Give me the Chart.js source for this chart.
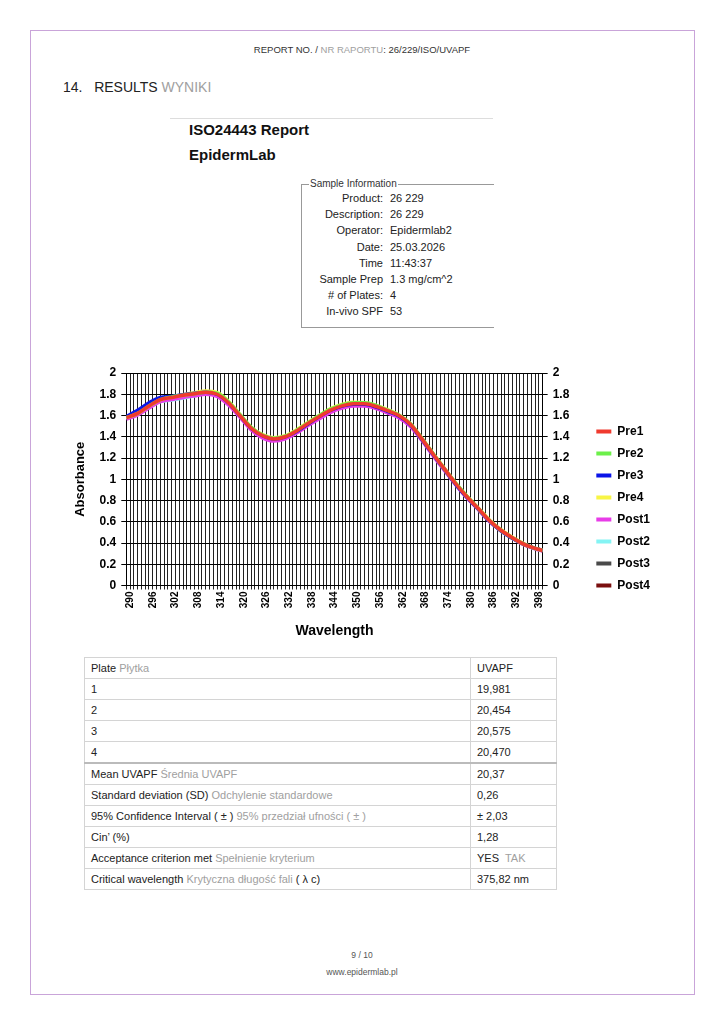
<!DOCTYPE html>
<html>
<head>
<meta charset="utf-8">
<script src="https://cdn.jsdelivr.net/npm/chart.js@4/dist/chart.umd.min.js"></script>
<style>
    body { margin: 0; background: #fff; font-family: "Liberation Sans", Arial, sans-serif; }
    .page { position: relative; width: 724px; height: 1024px; }
    .frame { position: absolute; left: 30px; top: 30px; width: 663px; height: 963px; border: 1px solid #c9a4d9; }
    .head { position: absolute; left: 0; width: 724px; top: 44px; text-align: center; font-size: 9.5px; color: #333; font-family: "Liberation Sans Narrow", "Liberation Sans", sans-serif; }
    .grey { color: #a0a0a0; }
    .sec { position: absolute; left: 63px; top: 79px; font-size: 14px; color: #222; font-family: "Liberation Sans Narrow", "Liberation Sans", sans-serif; }
    .rep { position: absolute; left: 170px; top: 118px; width: 323px; border-top: 1px solid #ddd; }
    .rtitle { position: absolute; left: 189px; font-weight: bold; font-size: 15px; color: #111; }
    .group { position: absolute; left: 301px; top: 184px; width: 192px; height: 142px; border: 1px solid #999; border-right: none; }
    .group .cap { position: absolute; left: 7px; top: -7px; background: #fff; font-size: 10px; color: #333; padding: 0 1px; }
    .row { position: absolute; left: 0; font-size: 11px; color: #222; }
    .row .k { position: absolute; right: -81px; width: 120px; text-align: right; }
    .row .v { position: absolute; left: 88px; white-space: nowrap; }
    #wrap { position: absolute; left: 69px; top: 358px; width: 595px; height: 286px; }
    table { position: absolute; left: 84px; top: 657px; width: 473px; border-collapse: collapse; font-size: 11px; color: #222; }
    td { border: 1px solid #d4d4d4; height: 20px; padding: 0 6px; }
    td.val { width: 73px; }
    tr.sep td { border-top: 2px solid #bbb; }
    .foot { position: absolute; left: 0; width: 724px; text-align: center; font-size: 8.5px; color: #555; }
</style>
</head>
<body>
<div class="page">
    <div class="frame"></div>
    <div class="head">REPORT NO. / <span class="grey">NR RAPORTU</span>: 26/229/ISO/UVAPF</div>
    <div class="sec">14.&nbsp;&nbsp; RESULTS <span class="grey">WYNIKI</span></div>

    <div class="rep"></div>
    <div class="rtitle" style="top:121px">ISO24443 Report</div>
    <div class="rtitle" style="top:146px">EpidermLab</div>
    <div class="group">
        <div class="cap">Sample Information</div>
        <div id="rows"></div>
    </div>

    <div id="wrap"><canvas id="grafica"></canvas></div>

    <table id="tabla"></table>

    <div class="foot" style="top:950px">9 / 10</div>
    <div class="foot" style="top:967px">www.epidermlab.pl</div>
</div>

<script>
const etiquetasMuestra = ['Product:', 'Description:', 'Operator:', 'Date:', 'Time', 'Sample Prep', '# of Plates:', 'In-vivo SPF'];
const valoresMuestra = ['26 229', '26 229', 'Epidermlab2', '25.03.2026', '11:43:37', '1.3 mg/cm^2', '4', '53'];

const wavelengths = [290, 293, 296, 299, 302, 305, 308, 311, 314, 317, 320, 323, 326, 329, 332, 335, 338, 341, 344, 347,
    350, 353, 356, 359, 362, 365, 368, 371, 374, 377, 380, 383, 386, 389, 392, 395, 398, 400];

const pre1 = [1.58, 1.62, 1.69, 1.75, 1.77, 1.79, 1.805, 1.82, 1.80, 1.72, 1.60, 1.48, 1.41, 1.38, 1.40, 1.455, 1.525, 1.59, 1.65, 1.69,
    1.71, 1.71, 1.685, 1.645, 1.60, 1.52, 1.385, 1.24, 1.10, 0.96, 0.835, 0.725, 0.61, 0.52, 0.45, 0.39, 0.35, 0.33];
const pre2 = [1.58, 1.62, 1.69, 1.75, 1.775, 1.79, 1.805, 1.82, 1.81, 1.73, 1.61, 1.49, 1.415, 1.385, 1.405, 1.46, 1.53, 1.60, 1.66, 1.70,
    1.72, 1.72, 1.695, 1.65, 1.605, 1.525, 1.39, 1.245, 1.10, 0.965, 0.84, 0.725, 0.61, 0.52, 0.45, 0.39, 0.35, 0.33];
const pre3 = [1.59, 1.65, 1.72, 1.77, 1.78, 1.795, 1.81, 1.82, 1.80, 1.72, 1.60, 1.48, 1.41, 1.38, 1.40, 1.45, 1.52, 1.59, 1.65, 1.69,
    1.705, 1.705, 1.68, 1.64, 1.595, 1.515, 1.38, 1.235, 1.095, 0.955, 0.83, 0.72, 0.605, 0.515, 0.445, 0.39, 0.35, 0.33];
const pre4 = [1.58, 1.62, 1.69, 1.75, 1.775, 1.795, 1.815, 1.83, 1.815, 1.735, 1.61, 1.49, 1.42, 1.39, 1.41, 1.465, 1.535, 1.60, 1.665, 1.705,
    1.725, 1.72, 1.695, 1.655, 1.605, 1.525, 1.39, 1.245, 1.105, 0.965, 0.84, 0.73, 0.615, 0.525, 0.455, 0.395, 0.35, 0.33];
const post1 = [1.565, 1.605, 1.67, 1.73, 1.75, 1.77, 1.785, 1.80, 1.78, 1.70, 1.585, 1.465, 1.39, 1.36, 1.38, 1.435, 1.505, 1.57, 1.63, 1.67,
    1.69, 1.69, 1.665, 1.625, 1.58, 1.50, 1.37, 1.225, 1.085, 0.95, 0.825, 0.715, 0.60, 0.515, 0.445, 0.385, 0.345, 0.325];
const post2 = [1.57, 1.61, 1.675, 1.73, 1.745, 1.765, 1.785, 1.805, 1.79, 1.71, 1.595, 1.475, 1.40, 1.37, 1.39, 1.445, 1.515, 1.58, 1.64, 1.68,
    1.70, 1.70, 1.675, 1.635, 1.59, 1.51, 1.38, 1.235, 1.095, 0.955, 0.83, 0.72, 0.605, 0.515, 0.445, 0.39, 0.345, 0.33];
const post3 = [1.575, 1.615, 1.685, 1.745, 1.765, 1.785, 1.80, 1.815, 1.795, 1.715, 1.595, 1.475, 1.405, 1.375, 1.395, 1.45, 1.52, 1.585, 1.645, 1.685,
    1.705, 1.705, 1.68, 1.64, 1.595, 1.515, 1.38, 1.235, 1.095, 0.955, 0.83, 0.72, 0.605, 0.515, 0.445, 0.39, 0.35, 0.33];
const post4 = [1.575, 1.62, 1.69, 1.75, 1.77, 1.79, 1.805, 1.82, 1.80, 1.72, 1.60, 1.48, 1.41, 1.38, 1.40, 1.455, 1.525, 1.59, 1.65, 1.69,
    1.71, 1.71, 1.685, 1.645, 1.60, 1.52, 1.385, 1.24, 1.10, 0.96, 0.835, 0.725, 0.61, 0.52, 0.45, 0.39, 0.35, 0.33];

const nombresSeries = ['Pre1', 'Pre2', 'Pre3', 'Pre4', 'Post1', 'Post2', 'Post3', 'Post4'];
const coloresSeries = ['#f03a2e', '#6cf04a', '#0a14e8', '#f8f545', '#e83ce8', '#84f4f4', '#4a4a4a', '#7a0f0f'];

const filasTabla = [
    ['Plate', 'Płytka', 'UVAPF', ''],
    ['1', '', '19,981', ''],
    ['2', '', '20,454', ''],
    ['3', '', '20,575', ''],
    ['4', '', '20,470', ''],
    ['Mean UVAPF', 'Średnia UVAPF', '20,37', ''],
    ['Standard deviation (SD)', 'Odchylenie standardowe', '0,26', ''],
    ['95% Confidence Interval ( ± )', '95% przedział ufności ( ± )', '± 2,03', ''],
    ['Cin’ (%)', '', '1,28', ''],
    ['Acceptance criterion met', 'Spełnienie kryterium', 'YES', 'TAK'],
    ['Critical wavelength', 'Krytyczna długość fali', '375,82 nm', '']
];

function pintarMuestra() {
    const cont = document.getElementById('rows');
    etiquetasMuestra.forEach((et, i) => {
        const div = document.createElement('div');
        div.className = 'row';
        div.style.top = (7 + i * 16.2) + 'px';
        div.innerHTML = `<span class="k">${et}</span><span class="v">${valoresMuestra[i]}</span>`;
        cont.appendChild(div);
    });
}

function pintarTabla() {
    const tabla = document.getElementById('tabla');
    filasTabla.forEach((f, i) => {
        const tr = document.createElement('tr');
        if (i === 5) tr.className = 'sep';
        let izq = f[0];
        if (f[1]) izq += ' <span class="grey">' + f[1] + '</span>';
        if (i === 10) izq += ' ( λ c)';
        let der = f[2];
        if (f[3]) der += '&nbsp; <span class="grey">' + f[3] + '</span>';
        tr.innerHTML = `<td>${izq}</td><td class="val">${der}</td>`;
        tabla.appendChild(tr);
    });
}

function prepararDatasets() {
    const series = [pre1, pre2, pre3, pre4, post1, post2, post3, post4];
    return series.map((valores, i) => ({
        label: nombresSeries[i],
        data: valores.map((v, j) => ({ x: wavelengths[j], y: v })),
        borderColor: coloresSeries[i],
        backgroundColor: coloresSeries[i],
        borderWidth: 3.5,
        pointRadius: 0,
        cubicInterpolationMode: 'monotone',
        fill: false
    }));
}

function inicializarGrafica() {
    Chart.defaults.font.family = '"Liberation Sans", Arial, sans-serif';
    Chart.defaults.color = '#000';
    const ctx = document.getElementById('grafica').getContext('2d');
    const ejeY = {
        min: 0,
        max: 2,
        ticks: {
            stepSize: 0.2,
            font: { size: 12, weight: 'bold' },
            color: '#000',
            padding: 5,
            callback: v => String(Math.round(v * 10) / 10)
        },
        border: { color: '#000', width: 1 },
        grid: { color: '#000', lineWidth: 1, tickLength: 5 }
    };

    new Chart(ctx, {
        type: 'line',
        data: { datasets: prepararDatasets() },
        options: {
            responsive: true,
            maintainAspectRatio: false,
            animation: false,
            layout: { padding: { top: 15, right: 4 } },
            scales: {
                x: {
                    type: 'linear',
                    min: 290,
                    max: 400,
                    ticks: {
                        stepSize: 1,
                        autoSkip: false,
                        minRotation: 90,
                        maxRotation: 90,
                        padding: 2,
                        labelOffset: 4,
                        font: { size: 10, weight: 'bold' },
                        color: '#000',
                        callback: function (v) {
                            return (v - 290) % 6 === 0 ? String(v) : '';
                        }
                    },
                    border: { color: '#000' },
                    grid: { color: '#222', lineWidth: 1, tickLength: 4 },
                    title: { display: true, text: 'Wavelength', font: { size: 14, weight: 'bold' }, padding: { top: 13 } }
                },
                y: Object.assign({}, ejeY, {
                    position: 'left',
                    title: { display: true, text: 'Absorbance', font: { size: 13, weight: 'bold' }, padding: { bottom: 6 } }
                }),
                y2: Object.assign({}, ejeY, {
                    position: 'right',
                    grid: { drawOnChartArea: false, color: '#000', tickLength: 5 },
                    afterFit: function (eje) { eje.width += 12; }
                })
            },
            plugins: {
                legend: {
                    position: 'right',
                    align: 'center',
                    labels: {
                        boxWidth: 15,
                        boxHeight: 4,
                        padding: 10,
                        font: { size: 12, weight: 'bold' },
                        color: '#000',
                        generateLabels: function (chart) {
                            const items = Chart.defaults.plugins.legend.labels.generateLabels(chart);
                            items.forEach(it => { it.lineWidth = 0; });
                            return items;
                        }
                    }
                },
                tooltip: { enabled: false }
            }
        }
    });
}

pintarMuestra();
pintarTabla();
inicializarGrafica();
</script>
</body>
</html>
